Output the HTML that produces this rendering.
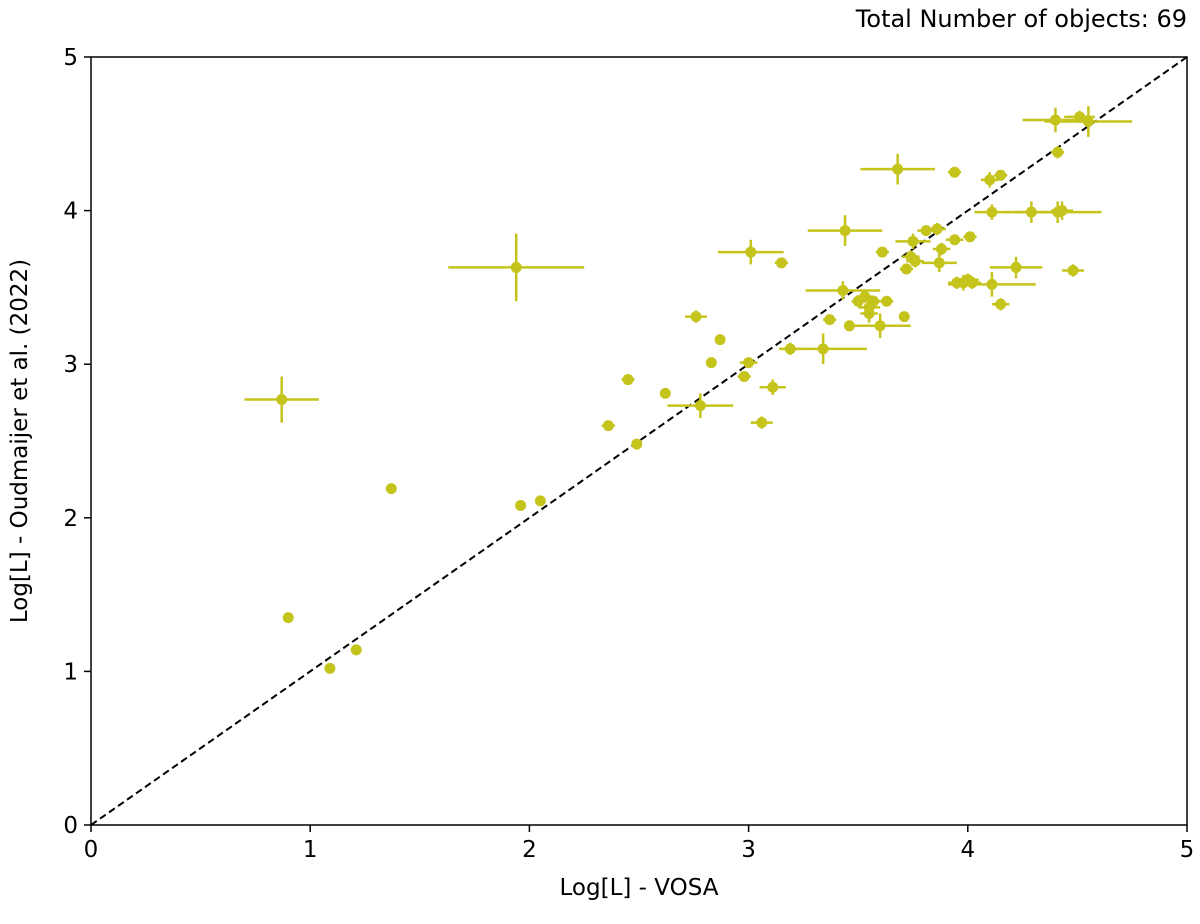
<!DOCTYPE html>
<html><head><meta charset="utf-8"><style>
body{margin:0;background:#fff;font-family:"DejaVu Sans","Liberation Sans",sans-serif}
</style></head><body>
<svg id="chart" width="1200" height="920" xmlns="http://www.w3.org/2000/svg" font-family="DejaVu Sans, Liberation Sans, sans-serif">
<text x="1187" y="27" text-anchor="end" font-size="24" fill="#000">Total Number of objects: 69</text>
<g id="marks"></g>
<g id="axes"></g>
<text x="639" y="895" text-anchor="middle" font-size="23">Log[L] - VOSA</text>
<text transform="translate(27,441) rotate(-90)" text-anchor="middle" font-size="23">Log[L] - Oudmaijer et al. (2022)</text>
</svg>
<script>
const xVals=[0.87,0.90,1.09,1.21,1.37,1.94,1.96,2.05,2.36,2.45,2.49,2.62,2.76,2.78,2.83,2.87,2.98,3.00,3.01,3.06,3.11,3.15,3.19,3.34,3.37,3.44,3.43,3.46,3.50,3.53,3.55,3.55,3.57,3.60,3.61,3.63,3.68,3.71,3.72,3.75,3.74,3.76,3.81,3.86,3.87,3.88,3.94,3.94,3.95,3.98,4.00,4.01,4.02,4.10,4.11,4.11,4.15,4.15,4.22,4.29,4.40,4.41,4.41,4.43,4.48,4.51,4.55];
const yVals=[2.77,1.35,1.02,1.14,2.19,3.63,2.08,2.11,2.60,2.90,2.48,2.81,3.31,2.73,3.01,3.16,2.92,3.01,3.73,2.62,2.85,3.66,3.10,3.10,3.29,3.87,3.48,3.25,3.41,3.44,3.37,3.33,3.41,3.25,3.73,3.41,4.27,3.31,3.62,3.80,3.70,3.67,3.87,3.88,3.66,3.75,4.25,3.81,3.53,3.53,3.55,3.83,3.53,4.20,3.99,3.52,4.23,3.39,3.63,3.99,4.59,3.99,4.38,4.00,3.61,4.61,4.58];
const xErr=[0.17,0,0,0,0,0.31,0,0,0.03,0.03,0,0,0.05,0.15,0,0,0.03,0.04,0.15,0.05,0.06,0.03,0.05,0.2,0.03,0.17,0.17,0,0.03,0.04,0.05,0.04,0.03,0.14,0.03,0.03,0.17,0,0.03,0.08,0.04,0.04,0.04,0.04,0.08,0.04,0.03,0.04,0.04,0.04,0.05,0.03,0.04,0.04,0.08,0.2,0.03,0.04,0.12,0.12,0.15,0.2,0.03,0.05,0.05,0.07,0.2];
const yErr=[0.15,0,0,0,0,0.22,0,0,0,0.02,0,0,0.04,0.08,0,0,0.03,0.03,0.08,0.04,0.05,0.02,0.04,0.1,0.02,0.1,0.06,0,0.03,0.04,0.04,0.06,0.03,0.08,0.02,0.03,0.1,0,0.02,0.05,0.04,0.04,0.03,0.04,0.06,0.04,0.02,0.03,0.04,0.05,0.04,0.02,0.04,0.05,0.05,0.08,0.02,0.04,0.07,0.07,0.08,0.07,0.04,0.06,0.04,0.04,0.1];
const xTicks=[0,1,2,3,4,5];
const yTicks=[0,1,2,3,4,5];
const L=91,R=1187,T=57,B=825;
const sx=v=>L+(v-0)/5*(R-L);
const sy=v=>B-(v-0)/5*(B-T);
const NS="http://www.w3.org/2000/svg";
function mk(tag,attrs,parent){const e=document.createElementNS(NS,tag);for(const k in attrs)e.setAttribute(k,attrs[k]);parent.appendChild(e);return e;}
const marks=document.getElementById('marks'),axes=document.getElementById('axes');
const C="#c4c41c";
const diag=mk('line',{x1:sx(0),y1:sy(0),x2:sx(5),y2:sy(5),stroke:"#000","stroke-width":2,"stroke-dasharray":"7,4"},marks);


xVals.forEach((x,i)=>{
  const y=yVals[i];
  const g=mk('g',{},marks);
  
  
  if(xErr[i]>0)mk('line',{x1:sx(x-xErr[i]),x2:sx(x+xErr[i]),y1:sy(y),y2:sy(y),stroke:C,"stroke-width":2.5},g);
  if(yErr[i]>0)mk('line',{x1:sx(x),x2:sx(x),y1:sy(y-yErr[i]),y2:sy(y+yErr[i]),stroke:C,"stroke-width":2.5},g);
  mk('circle',{cx:sx(x),cy:sy(y),r:5.5,fill:C},g);
});
const fr=mk('rect',{x:L,y:T,width:R-L,height:B-T,fill:"none",stroke:"#000","stroke-width":1.5},axes);


xTicks.forEach(t=>{
  mk('line',{x1:sx(t),x2:sx(t),y1:B,y2:B+7,stroke:"#000","stroke-width":1.5},axes);
  const tx=mk('text',{x:sx(t),y:B+32,"text-anchor":"middle","font-size":23},axes);
  tx.textContent=t;
  
  
});
yTicks.forEach(t=>{
  mk('line',{x1:L-7,x2:L,y1:sy(t),y2:sy(t),stroke:"#000","stroke-width":1.5},axes);
  const tx=mk('text',{x:L-13,y:sy(t)+8,"text-anchor":"end","font-size":23},axes);
  tx.textContent=t;
  
  
});
</script>
</body></html>
